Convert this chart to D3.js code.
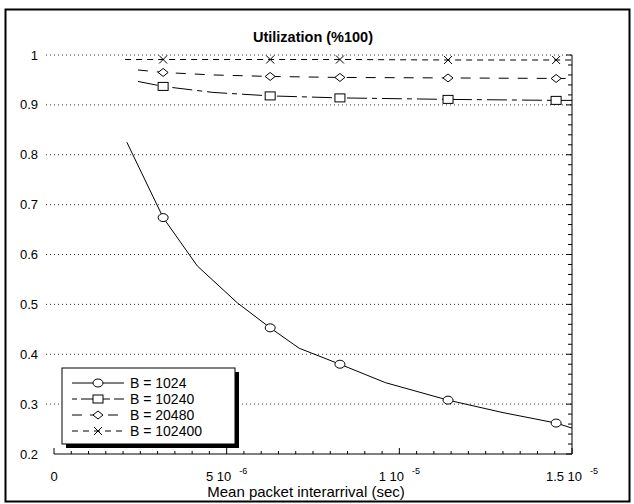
<!DOCTYPE html>
<html>
<head>
<meta charset="utf-8">
<script src="https://cdn.jsdelivr.net/npm/d3@7"></script>
<style>
  html, body { margin: 0; padding: 0; background: #fff; }
  svg { display: block; font-family: Arial, "Liberation Sans", sans-serif; }
</style>
</head>
<body>
<svg id="chart" width="634" height="504"></svg>
<script>
// Utilization vs. mean packet interarrival time for four buffer sizes
const xTicks = [0, 5e-6, 1e-5, 1.5e-5];
const xTickLabels = [["0", ""], ["5 10", "-6"], ["1 10", "-5"], ["1.5 10", "-5"]];
const yTicks = [0.2, 0.3, 0.4, 0.5, 0.6, 0.7, 0.8, 0.9, 1];

// line vertices for each series
const lineB1024 = [
  [2.11e-6, 0.825], [3.16e-6, 0.674], [4.15e-6, 0.577], [5.31e-6, 0.503],
  [6.26e-6, 0.453], [7.1e-6, 0.412], [8.28e-6, 0.380], [9.6e-6, 0.343],
  [1.141e-5, 0.308], [1.3e-5, 0.283], [1.454e-5, 0.262], [1.5e-5, 0.252]
];
const lineB10240 = [
  [2.43e-6, 0.947], [3.16e-6, 0.937], [4.6e-6, 0.925], [6.26e-6, 0.918],
  [8.28e-6, 0.914], [1.141e-5, 0.911], [1.454e-5, 0.909], [1.5e-5, 0.909]
];
const lineB20480 = [
  [2.43e-6, 0.970], [3.16e-6, 0.965], [4.6e-6, 0.960], [6.26e-6, 0.957],
  [8.28e-6, 0.955], [1.141e-5, 0.954], [1.454e-5, 0.953], [1.5e-5, 0.953]
];
const lineB102400 = [
  [2.06e-6, 0.991], [3.16e-6, 0.991], [6.26e-6, 0.991], [8.28e-6, 0.991],
  [1.141e-5, 0.990], [1.454e-5, 0.990], [1.5e-5, 0.990]
];

// marker positions
const markB1024 = [[3.16e-6, 0.674], [6.26e-6, 0.453], [8.28e-6, 0.380], [1.141e-5, 0.308], [1.454e-5, 0.262]];
const markB10240 = [[3.16e-6, 0.937], [6.26e-6, 0.918], [8.28e-6, 0.914], [1.141e-5, 0.911], [1.454e-5, 0.909]];
const markB20480 = [[3.16e-6, 0.965], [6.26e-6, 0.957], [8.28e-6, 0.955], [1.141e-5, 0.954], [1.454e-5, 0.953]];
const markB102400 = [[3.16e-6, 0.991], [6.26e-6, 0.991], [8.28e-6, 0.991], [1.141e-5, 0.990], [1.454e-5, 0.990]];

const seriesNames = ["B = 1024", "B = 10240", "B = 20480", "B = 102400"];
const seriesLines = [lineB1024, lineB10240, lineB20480, lineB102400];
const seriesMarks = [markB1024, markB10240, markB20480, markB102400];
const seriesDash = [null, "20,5,5,5", "10,9", "6,5"];
const seriesShape = ["circle", "square", "diamond", "cross"];

const svg = d3.select("#chart");
const plot = { left: 54, right: 572, top: 55, bottom: 454 };

// outer frame
svg.append("rect").attr("x", 5.5).attr("y", 9.5).attr("width", 624).attr("height", 492)
  .attr("fill", "none").attr("stroke", "#000").attr("stroke-width", 2);

const x = d3.scaleLinear().domain([0, 1.5e-5]).range([plot.left, plot.right]);
const y = d3.scaleLinear().domain([0.2, 1]).range([plot.bottom, plot.top]);

// horizontal dotted grid
svg.append("g").selectAll("line").data(yTicks.filter(v => v > 0.2)).join("line")
  .attr("x1", plot.left - 8).attr("x2", plot.right)
  .attr("y1", d => y(d)).attr("y2", d => y(d))
  .attr("stroke", "#333").attr("stroke-width", 1).attr("stroke-dasharray", "1,3");

// y labels
svg.append("g").selectAll("text").data(yTicks).join("text")
  .attr("x", 38).attr("y", d => y(d) + 4.5).attr("text-anchor", "end")
  .attr("font-size", 13).text(d => d3.format("~g")(d));

// bottom axis with minor ticks pointing up
const xMinor = d3.range(0, 31).map(i => i * 5e-7);
const bottom = svg.append("g");
bottom.append("line").attr("x1", plot.left).attr("x2", plot.right)
  .attr("y1", plot.bottom).attr("y2", plot.bottom).attr("stroke", "#000");
bottom.selectAll("line.tk").data(xMinor).join("line").attr("class", "tk")
  .attr("x1", d => x(d)).attr("x2", d => x(d))
  .attr("y1", plot.bottom).attr("y2", (d, i) => plot.bottom - (i % 10 === 0 ? 6 : 3))
  .attr("stroke", "#000");

// right axis with minor ticks pointing left
const yMinor = d3.range(0, 41).map(i => 0.2 + i * 0.02);
const right = svg.append("g");
right.append("line").attr("x1", plot.right).attr("x2", plot.right)
  .attr("y1", plot.top).attr("y2", plot.bottom).attr("stroke", "#000");
right.selectAll("line.tk").data(yMinor).join("line").attr("class", "tk")
  .attr("y1", d => y(d)).attr("y2", d => y(d))
  .attr("x1", plot.right).attr("x2", (d, i) => plot.right - (i % 5 === 0 ? 6 : 4))
  .attr("stroke", "#000");

// x tick labels with exponent superscripts
const xl = svg.append("g").selectAll("text").data(xTicks).join("text")
  .attr("x", d => x(d)).attr("y", 481).attr("text-anchor", "middle").attr("font-size", 13);
xl.each(function(d, i) {
  const t = d3.select(this);
  t.append("tspan").text(xTickLabels[i][0]);
  if (xTickLabels[i][1]) {
    t.append("tspan").attr("dx", 8).attr("dy", -7).attr("font-size", 9).text(xTickLabels[i][1]);
  }
});

// titles
svg.append("text").attr("x", 313).attr("y", 42).attr("text-anchor", "middle")
  .attr("font-size", 14.5).attr("font-weight", "bold").text("Utilization (%100)");
svg.append("text").attr("x", 306).attr("y", 497).attr("text-anchor", "middle")
  .attr("font-size", 15).text("Mean packet interarrival (sec)");

// markers
function marker(g, shape, cx, cy) {
  if (shape === "circle") {
    g.append("ellipse").attr("cx", cx).attr("cy", cy).attr("rx", 5).attr("ry", 4)
      .attr("fill", "#fff").attr("stroke", "#000");
  } else if (shape === "square") {
    g.append("rect").attr("x", cx - 5).attr("y", cy - 4).attr("width", 10).attr("height", 8)
      .attr("fill", "#fff").attr("stroke", "#000");
  } else if (shape === "diamond") {
    g.append("path").attr("d", `M${cx - 5},${cy}L${cx},${cy - 4}L${cx + 5},${cy}L${cx},${cy + 4}Z`)
      .attr("fill", "#fff").attr("stroke", "#000");
  } else {
    g.append("path").attr("d", `M${cx - 4},${cy - 4}L${cx + 4},${cy + 4}M${cx - 4},${cy + 4}L${cx + 4},${cy - 4}`)
      .attr("stroke", "#000").attr("fill", "none");
  }
}

const line = d3.line().x(d => x(d[0])).y(d => y(d[1]));
seriesLines.forEach((pts, i) => {
  svg.append("path").datum(pts).attr("d", line).attr("fill", "none")
    .attr("stroke", "#000").attr("stroke-width", 1)
    .attr("stroke-dasharray", seriesDash[i]);
  const g = svg.append("g");
  seriesMarks[i].forEach(p => marker(g, seriesShape[i], x(p[0]), y(p[1])));
});

// legend with drop shadow
const lg = { x: 62, y: 368, w: 173, h: 76 };
svg.append("rect").attr("x", lg.x + 4).attr("y", lg.y + 4).attr("width", lg.w).attr("height", lg.h).attr("fill", "#000");
svg.append("rect").attr("x", lg.x).attr("y", lg.y).attr("width", lg.w).attr("height", lg.h)
  .attr("fill", "#fff").attr("stroke", "#000");
const legendDash = [null, "5,4,24,0", "10,8", "6,5"];
seriesNames.forEach((name, i) => {
  const ly = lg.y + 15 + i * 16;
  const g = svg.append("g");
  g.append("line").attr("x1", lg.x + 10).attr("x2", lg.x + 62).attr("y1", ly).attr("y2", ly)
    .attr("stroke", "#000").attr("stroke-dasharray", legendDash[i]);
  marker(g, seriesShape[i], lg.x + 36, ly);
  g.append("text").attr("x", lg.x + 68).attr("y", ly + 5).attr("font-size", 14).text(name);
});
</script>
</body>
</html>
